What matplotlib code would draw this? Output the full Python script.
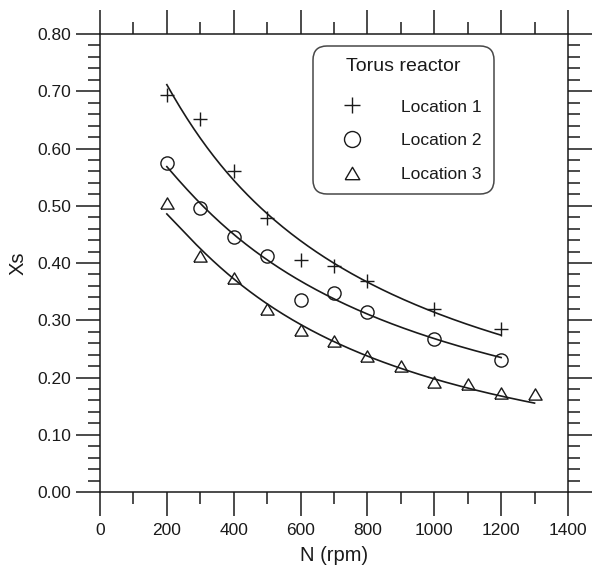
import numpy as np
import matplotlib.pyplot as plt
from matplotlib.lines import Line2D
from matplotlib.ticker import MultipleLocator, FormatStrFormatter

plt.rcParams['font.family'] = ['Liberation Sans', 'DejaVu Sans']

# measured solid fraction at three locations of the torus reactor
n_loc1 = [200, 300, 400, 500, 600, 700, 800, 1000, 1200]
xs_loc1 = [0.693, 0.652, 0.561, 0.479, 0.406, 0.395, 0.368, 0.319, 0.284]

n_loc2 = [200, 300, 400, 500, 600, 700, 800, 1000, 1200]
xs_loc2 = [0.575, 0.496, 0.446, 0.412, 0.336, 0.347, 0.314, 0.267, 0.231]

n_loc3 = [200, 300, 400, 500, 600, 700, 800, 900, 1000, 1100, 1200, 1300]
xs_loc3 = [0.505, 0.412, 0.374, 0.320, 0.283, 0.264, 0.238, 0.220, 0.193, 0.188, 0.173, 0.171]

# model curves, sampled values
curve_n1 = [200, 300, 400, 500, 600, 700, 800, 1000, 1200]
curve_xs1 = [0.712, 0.617, 0.552, 0.480, 0.432, 0.400, 0.372, 0.319, 0.270]
curve_n2 = [200, 300, 400, 500, 600, 700, 800, 1000, 1200]
curve_xs2 = [0.574, 0.498, 0.445, 0.404, 0.371, 0.343, 0.313, 0.267, 0.233]
curve_n3 = [200, 300, 400, 500, 600, 700, 800, 900, 1000, 1100, 1200, 1300]
curve_xs3 = [0.493, 0.415, 0.372, 0.327, 0.290, 0.268, 0.240, 0.220, 0.196, 0.181, 0.167, 0.154]

labels = ["Location 1", "Location 2", "Location 3"]

INK = "#1a1a1a"
tri = [(-1, -0.85), (1, -0.85), (0, 0.85), (-1, -0.85)]


def smooth_curve(n, xs):
    # quadratic fit in log-log space, drawn as a smooth line
    c = np.polyfit(np.log(n), np.log(xs), 2)
    nn = np.linspace(n[0], n[-1], 200)
    return nn, np.exp(np.polyval(c, np.log(nn)))


fig = plt.figure(figsize=(5.93, 5.70), dpi=100)
ax = fig.add_axes([0.1686, 0.1368, 0.7892, 0.8035])

for cn, cx in [(curve_n1, curve_xs1), (curve_n2, curve_xs2), (curve_n3, curve_xs3)]:
    nn, yy = smooth_curve(cn, cx)
    ax.plot(nn, yy, color=INK, lw=1.2)

ms = 9.5
ax.plot(n_loc1, xs_loc1, linestyle="none", marker="+", ms=ms + 0.5, mew=1.0, color=INK)
ax.plot(n_loc2, xs_loc2, linestyle="none", marker="o", ms=ms, mew=1.0,
        mfc="none", mec=INK)
ax.plot(n_loc3, xs_loc3, linestyle="none", marker=tri, ms=ms, mew=1.0,
        mfc="none", mec=INK)

ax.set_xlim(0, 1400)
ax.set_ylim(0, 0.8)
ax.xaxis.set_major_locator(MultipleLocator(200))
ax.xaxis.set_minor_locator(MultipleLocator(100))
ax.yaxis.set_major_locator(MultipleLocator(0.1))
ax.yaxis.set_minor_locator(MultipleLocator(0.02))
ax.yaxis.set_major_formatter(FormatStrFormatter("%.2f"))

ax.tick_params(which="both", direction="out", top=True, right=True,
               width=1.1, color=INK, labelcolor=INK, labelsize=12.5)
ax.tick_params(which="major", length=17.5)
ax.tick_params(which="minor", length=8.6)
ax.tick_params(axis="x", which="major", pad=4.5)
ax.tick_params(axis="y", which="major", pad=3)
for s in ax.spines.values():
    s.set_linewidth(1.1)
    s.set_color(INK)

ax.set_xlabel("N (rpm)", fontsize=14.5, color=INK, labelpad=6)
ax.set_ylabel("Xs", fontsize=14.5, color=INK, labelpad=7)

handles = [
    Line2D([], [], linestyle="none", marker="+", ms=ms + 2, mew=1.0, color=INK),
    Line2D([], [], linestyle="none", marker="o", ms=ms + 2, mew=1.0, mfc="none", mec=INK),
    Line2D([], [], linestyle="none", marker=tri, ms=ms + 1, mew=1.0, mfc="none", mec=INK),
]
leg = ax.legend(handles, labels, title="Torus reactor", loc="upper left",
                bbox_to_anchor=(0.455, 0.974), borderaxespad=0,
                fontsize=12.5, title_fontsize=14, frameon=True,
                handlelength=3.1, handletextpad=1.3, labelspacing=1.07,
                borderpad=0.7)
# a little more room between the title and the entries
leg._legend_box.sep = 17.5
leg.get_title().set_color(INK)
for t in leg.get_texts():
    t.set_color(INK)
frame = leg.get_frame()
frame.set_edgecolor(INK)
frame.set_linewidth(1.1)
frame.set_boxstyle("round", pad=0, rounding_size=0.8)

fig.savefig("out.png", dpi=100)
